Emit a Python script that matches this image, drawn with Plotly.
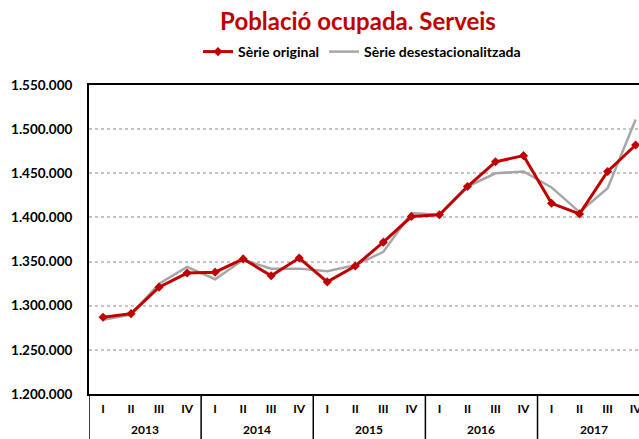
import plotly.graph_objects as go

years = ["2013", "2014", "2015", "2016", "2017"]
quarters = ["I", "II", "III", "IV"]
original = [1287000, 1291000, 1321000, 1337000, 1338000, 1353000, 1334000, 1354000,
            1327000, 1345000, 1372000, 1401000, 1403000, 1435000, 1463000, 1470000,
            1416000, 1404000, 1452000, 1482000]
desest = [1284000, 1290000, 1325000, 1344000, 1330000, 1352000, 1342000, 1342000,
          1339000, 1346000, 1361000, 1405000, 1403000, 1435000, 1450000, 1452000,
          1434000, 1406000, 1433000, 1511000]
y_ticks = [1200000, 1250000, 1300000, 1350000, 1400000, 1450000, 1500000, 1550000]

xkeys = [f"{y} {q}" for y in years for q in quarters]
xlabels = [q for _ in years for q in quarters]

FONT = "Lato"
H, PB = 439, 45
plot_h = H - 85 - PB

fig = go.Figure()
fig.add_trace(go.Scatter(x=xkeys, y=desest, mode="lines", name="Sèrie desestacionalitzada",
                         line=dict(color="#a6a6a6", width=2.5)))
fig.add_trace(go.Scatter(x=xkeys, y=original, mode="lines+markers", name="Sèrie original",
                         line=dict(color="#c00000", width=3),
                         marker=dict(symbol="diamond", size=7, color="#c00000")))

nq = len(quarters)
for i, yr in enumerate(years):
    fig.add_annotation(x=i * nq + (nq - 1) / 2, xref="x", y=-35 / plot_h, yref="paper",
                       text=f"<b>{yr}</b>", showarrow=False, yanchor="middle",
                       font=dict(family=FONT, size=12, color="black"))
    fig.add_shape(type="line", xref="x", yref="paper", x0=i * nq - 0.5, x1=i * nq - 0.5,
                  y0=0, y1=-PB / plot_h, line=dict(color="black", width=1.5))

fig.update_layout(
    width=639, height=H,
    margin=dict(l=89, r=0, t=85, b=PB),
    paper_bgcolor="white", plot_bgcolor="white",
    separators=",.",
    font=dict(family=FONT, color="black"),
    title=dict(text="<b>Població ocupada. Serveis</b>", x=358 / 639, xanchor="center",
               y=1 - 22 / 439, yanchor="middle", yref="container",
               font=dict(family=FONT, size=24, color="#c00000")),
    legend=dict(orientation="h", x=362 / 639, xref="container", xanchor="center",
                y=1 - 52 / 439, yanchor="middle", yref="container", traceorder="reversed",
                font=dict(family=FONT, size=14, color="black", weight="bold"),
                itemwidth=30, bgcolor="rgba(0,0,0,0)"),
    showlegend=True,
)
fig.update_yaxes(range=[1200000, 1550000], tickvals=y_ticks, tickformat=",d",
                 automargin=False,
                 showgrid=True, gridcolor="#c4c4c4", griddash="dot", gridwidth=1.5,
                 showline=True, linecolor="black", linewidth=2, ticks="",
                 ticklabelstandoff=12,
                 tickfont=dict(family=FONT, size=13.5, color="black", weight="bold"),
                 zeroline=False)
fig.update_xaxes(type="category", range=[-0.5, 19.12], showgrid=False,
                 automargin=False, tickvals=xkeys, ticktext=xlabels,
                 showline=True, linecolor="black", linewidth=2, mirror=True,
                 ticks="", ticklabelstandoff=3,
                 tickfont=dict(family=FONT, size=12, color="black", weight="bold"))

fig.write_html("out.html", config={"displayModeBar": False},
               post_script="document.body.style.margin='0';document.body.style.overflow='hidden';")
